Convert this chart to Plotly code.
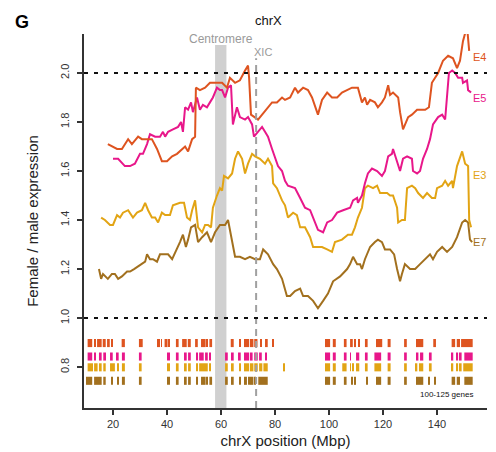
import plotly.graph_objects as go

# ---------------- data ----------------
e4_x = [18.1, 21.5, 23.3, 25.6, 27.0, 29.3, 30.7, 32.6, 34.4, 36.3, 38.1, 40.0, 41.9, 43.7, 45.6, 46.7, 47.8, 49.3, 50.4, 50.7,
        52.2, 54.1, 55.9, 57.8, 58.9, 60.4, 62.2, 63.3, 65.2, 67.0, 68.9, 70.0, 70.4, 71.1, 73.7, 75.2, 77.0, 78.9, 80.7, 82.6,
        83.7, 85.6, 87.4, 88.5, 90.4, 92.2, 93.7, 94.8, 95.9, 97.4, 99.3, 101.1, 103.0, 104.8, 106.7, 108.5, 110.7, 112.2, 113.3,
        114.1, 115.2, 117.0, 118.1, 119.6, 120.7, 121.9, 122.6, 123.7, 125.6, 126.3, 127.4, 129.3, 130.7, 132.6, 135.6, 137.0,
        138.1, 140.4, 142.2, 144.1, 145.9, 147.4, 148.5, 149.6, 151.1, 151.9]
e4_y = [1.71, 1.69, 1.69, 1.73, 1.71, 1.74, 1.73, 1.73, 1.73, 1.69, 1.64, 1.64, 1.66, 1.67, 1.69, 1.70, 1.68, 1.73, 1.74, 1.94,
        1.93, 1.94, 1.96, 1.96, 1.96, 1.96, 1.94, 1.98, 1.96, 1.97, 2.01, 2.03, 1.98, 1.83, 1.81, 1.83, 1.85, 1.88, 1.88, 1.90,
        1.89, 1.90, 1.94, 1.92, 1.94, 1.93, 1.90, 1.86, 1.83, 1.89, 1.92, 1.90, 1.90, 1.92, 1.93, 1.94, 1.94, 1.88, 1.90,
        1.87, 1.89, 1.88, 1.86, 1.88, 1.90, 1.95, 1.91, 1.92, 1.90, 1.84, 1.77, 1.82, 1.83, 1.85, 1.85, 1.86,
        1.96, 2.00, 2.05, 2.07, 2.06, 2.02, 2.05, 2.13, 2.19, 2.09]

e5_x = [20.0, 21.9, 24.4, 26.3, 28.1, 30.0, 31.1, 32.6, 33.7, 35.6, 37.4, 38.5, 39.3, 40.4, 42.2, 44.1, 45.2, 45.9, 46.7, 47.8,
        48.9, 49.6, 51.1, 52.2, 53.3, 54.8, 55.9, 57.0, 58.5, 59.6, 60.4, 61.5, 62.6, 63.7, 64.4, 65.9, 67.0, 68.9, 70.0, 71.5,
        72.2, 73.7, 75.2, 76.3, 77.4, 78.9, 80.0, 81.1, 82.6, 83.7, 84.8, 87.4, 89.3, 91.1, 93.0, 94.1, 95.9, 97.8, 99.3, 101.1,
        103.0, 105.2, 107.8, 108.9, 110.4, 110.7, 112.2, 113.3, 114.4, 115.9, 117.8, 119.6, 120.7, 121.9, 123.3, 123.7, 125.2,
        126.3, 127.4, 128.9, 130.7, 131.1, 132.6, 133.7, 134.8, 136.3, 137.4, 138.5, 140.4, 141.9, 143.0, 143.7, 144.4, 145.6,
        146.7, 147.8, 149.3, 149.6, 151.1, 151.5, 152.6]
e5_y = [1.65, 1.65, 1.62, 1.62, 1.63, 1.67, 1.67, 1.71, 1.75, 1.74, 1.74, 1.76, 1.74, 1.76, 1.77, 1.78, 1.80, 1.76, 1.86, 1.85,
        1.88, 1.84, 1.90, 1.85, 1.87, 1.86, 1.88, 1.90, 1.94, 1.93, 1.93, 1.90, 1.94, 1.95, 1.79, 1.86, 1.82, 1.81, 1.82, 1.79,
        1.74, 1.76, 1.78, 1.76, 1.74, 1.69, 1.65, 1.62, 1.60, 1.56, 1.54, 1.53, 1.49, 1.45, 1.44, 1.41, 1.36, 1.35, 1.39, 1.40,
        1.43, 1.44, 1.45, 1.48, 1.49, 1.47, 1.50, 1.55, 1.59, 1.61, 1.60, 1.58, 1.60, 1.66, 1.67, 1.69, 1.64,
        1.60, 1.65, 1.66, 1.65, 1.60, 1.59, 1.60, 1.65, 1.69, 1.73, 1.79, 1.82, 1.83, 1.81, 1.92, 2.00, 2.01,
        2.00, 1.98, 1.98, 1.96, 1.97, 1.93, 1.92]

e3_x = [15.6, 17.0, 18.9, 20.0, 21.5, 22.6, 23.7, 25.6, 27.4, 28.9, 30.7, 31.9, 33.0, 34.4, 35.6, 36.7, 38.1, 39.3, 41.1, 42.2,
        44.8, 46.3, 47.4, 48.5, 49.3, 50.4, 51.5, 53.0, 54.1, 55.2, 56.3, 57.0, 58.5, 59.6, 60.4, 61.1, 62.6, 64.1, 65.2, 66.3,
        67.8, 68.9, 70.0, 71.5, 72.6, 74.4, 76.3, 77.4, 78.9, 79.3, 80.7, 82.6, 83.7, 84.8, 86.7, 88.1, 89.3, 91.1, 93.0, 94.1,
        95.9, 97.4, 99.3, 101.1, 102.2, 104.8, 107.0, 108.5, 109.6, 110.7, 112.2, 113.3, 114.4, 116.3, 117.8, 118.9, 120.0,
        121.5, 122.6, 123.7, 125.2, 125.6, 127.0, 128.1, 128.9, 130.7, 131.9, 133.0, 134.8, 136.3, 138.1, 139.3, 140.0, 141.9,
        143.0, 144.1, 145.6, 145.9, 147.4, 149.3, 150.4, 151.5, 151.9, 152.6]
e3_y = [1.41, 1.40, 1.38, 1.38, 1.42, 1.41, 1.43, 1.44, 1.41, 1.43, 1.44, 1.47, 1.44, 1.41, 1.41, 1.39, 1.43, 1.42, 1.42, 1.46,
        1.47, 1.47, 1.41, 1.40, 1.44, 1.48, 1.37, 1.35, 1.38, 1.38, 1.37, 1.45, 1.50, 1.53, 1.52, 1.58, 1.57, 1.59, 1.65, 1.68,
        1.65, 1.59, 1.63, 1.67, 1.66, 1.65, 1.63, 1.65, 1.62, 1.55, 1.53, 1.48, 1.46, 1.41, 1.43, 1.42, 1.37, 1.37, 1.33, 1.29,
        1.29, 1.29, 1.28, 1.27, 1.31, 1.32, 1.34, 1.34, 1.37, 1.41, 1.45, 1.53, 1.54, 1.53, 1.54, 1.51, 1.51,
        1.51, 1.50, 1.50, 1.45, 1.39, 1.40, 1.40, 1.53, 1.54, 1.53, 1.51, 1.49, 1.51, 1.49, 1.49, 1.53, 1.54,
        1.56, 1.54, 1.56, 1.53, 1.62, 1.68, 1.63, 1.62, 1.40, 1.37]

e7_x = [14.8, 15.6, 16.3, 17.4, 18.1, 19.6, 20.7, 21.9, 23.3, 25.2, 26.3, 27.8, 29.3, 30.4, 31.9, 32.6, 33.7, 34.8, 36.3, 37.4,
        39.3, 40.4, 41.9, 43.7, 44.8, 45.9, 47.0, 47.8, 48.9, 50.4, 51.5, 53.0, 54.8, 56.3, 57.8, 59.6, 60.4, 61.5, 62.6, 63.3,
        64.4, 65.2, 67.0, 68.9, 70.7, 72.6, 74.4, 75.6, 77.4, 79.3, 80.7, 82.6, 84.4, 85.6, 87.4, 89.3, 90.4, 92.2, 94.1, 95.9,
        97.8, 99.6, 101.5, 104.1, 106.7, 107.8, 108.9, 110.4, 111.5, 112.2, 113.3, 115.2, 117.0, 118.1, 119.6, 120.7, 122.6,
        124.1, 125.2, 126.3, 127.0, 128.1, 130.0, 131.9, 133.7, 135.6, 137.4, 138.5, 140.0, 141.9, 143.7, 145.6, 147.4, 149.3,
        150.4, 151.5, 152.2, 153.0]
e7_y = [1.20, 1.16, 1.18, 1.17, 1.16, 1.18, 1.18, 1.16, 1.17, 1.19, 1.19, 1.20, 1.21, 1.22, 1.23, 1.26, 1.24, 1.24, 1.23, 1.26,
        1.26, 1.26, 1.24, 1.28, 1.31, 1.34, 1.29, 1.32, 1.37, 1.38, 1.31, 1.33, 1.35, 1.31, 1.35, 1.38, 1.38, 1.38, 1.40, 1.36,
        1.29, 1.25, 1.25, 1.24, 1.25, 1.24, 1.24, 1.28, 1.26, 1.22, 1.20, 1.16, 1.09, 1.09, 1.11, 1.12, 1.09, 1.09, 1.07, 1.04,
        1.07, 1.10, 1.15, 1.17, 1.20, 1.22, 1.25, 1.22, 1.22, 1.20, 1.24, 1.29, 1.31, 1.32, 1.31, 1.28, 1.28,
        1.26, 1.20, 1.15, 1.18, 1.22, 1.20, 1.20, 1.22, 1.24, 1.26, 1.24, 1.27, 1.29, 1.27, 1.29, 1.33, 1.39,
        1.40, 1.39, 1.32, 1.31]

# gene positions (start, end in Mbp) per stage track
e4_genes = [(10.6, 12.3), (13.0, 13.6), (14.1, 15.8), (16.2, 17.3), (17.8, 18.8), (19.3, 19.8), (23.2, 24.4), (29.6, 31.0),
            (36.3, 37.4), (37.8, 38.1), (39.1, 40.2), (40.7, 41.0), (43.3, 44.3), (45.6, 47.3), (47.7, 48.8), (50.4, 51.4),
            (52.6, 54.3), (54.7, 55.1), (55.7, 56.7), (63.6, 64.7), (67.0, 67.3), (68.5, 70.4), (70.7, 72.0), (72.3, 73.5),
            (74.6, 75.1), (76.3, 77.3), (79.1, 79.5), (98.5, 100.4), (101.4, 102.5), (105.5, 106.5), (107.8, 108.8),
            (109.6, 110.0), (110.9, 111.2), (113.3, 114.3), (117.4, 119.7), (121.7, 122.8), (127.8, 128.8), (132.2, 134.9),
            (138.6, 139.6), (145.4, 146.7), (147.3, 148.5), (148.9, 153.2)]
e5_genes = [(10.6, 12.3), (13.0, 13.6), (14.8, 15.8), (16.4, 17.4), (18.9, 19.9), (21.1, 22.1), (23.3, 24.4), (29.6, 30.6),
            (40.0, 40.2), (40.7, 41.1), (43.3, 44.3), (46.3, 47.3), (47.8, 48.8), (51.0, 51.4), (51.9, 53.6), (54.1, 55.1),
            (55.7, 56.1), (61.5, 62.5), (63.7, 64.7), (66.3, 67.3), (68.5, 70.4), (70.7, 71.7), (72.3, 73.6), (74.1, 75.1),
            (76.3, 76.7), (98.5, 100.4), (101.4, 102.5), (105.5, 106.5), (107.8, 108.1), (110.0, 111.2), (113.3, 114.3),
            (116.8, 119.3), (121.7, 122.8), (127.8, 128.8), (132.2, 133.1), (133.7, 134.9), (137.0, 138.0), (145.4, 146.0),
            (147.3, 147.7), (148.1, 149.1), (150.1, 153.2)]
e3_genes = [(10.6, 12.6), (13.0, 14.3), (14.8, 15.8), (16.4, 17.3), (18.9, 20.7), (21.7, 22.1), (23.3, 24.4), (29.6, 30.6),
            (40.0, 40.2), (40.7, 41.1), (43.3, 44.3), (46.3, 47.3), (47.8, 48.8), (51.0, 51.4), (51.9, 55.1), (55.7, 56.1),
            (61.5, 62.5), (63.7, 64.7), (67.0, 67.3), (68.5, 70.4), (70.7, 72.0), (72.3, 73.6), (74.1, 75.3), (75.7, 77.3),
            (83.3, 83.7), (98.5, 100.4), (101.4, 102.5), (104.9, 106.5), (107.8, 108.1), (108.6, 109.0), (110.0, 111.2),
            (113.3, 114.3), (116.8, 119.3), (121.7, 122.8), (127.8, 128.8), (132.2, 132.7), (133.3, 134.9), (137.0, 138.0),
            (145.4, 146.0), (147.3, 147.7), (148.1, 149.1), (149.7, 153.2)]
e7_genes = [(10.0, 12.3), (13.0, 15.8), (16.4, 17.3), (19.3, 19.8), (21.7, 22.1), (23.3, 24.4), (29.6, 30.6), (40.0, 40.2),
            (40.7, 41.1), (43.3, 44.3), (46.3, 47.3), (47.8, 48.8), (51.0, 51.4), (52.6, 54.3), (54.7, 55.1), (55.7, 56.7),
            (61.5, 62.5), (63.7, 64.7), (67.0, 67.3), (68.5, 69.6), (70.1, 70.4), (70.7, 72.0), (72.3, 72.7), (73.8, 77.3),
            (98.5, 100.4), (101.4, 102.5), (105.5, 106.5), (108.3, 108.8), (109.6, 110.0), (113.9, 114.2), (117.4, 119.3),
            (121.7, 122.8), (127.8, 128.8), (132.2, 134.9), (137.0, 137.4), (139.2, 139.6), (145.4, 146.7), (147.3, 148.5),
            (150.1, 153.2)]

stages = ["E4", "E5", "E3", "E7"]
gene_track_y = [0.898, 0.843, 0.799, 0.744]
centromere = (57.8, 62.0)
xic_pos = 73.0
x_ticks = [20, 40, 60, 80, 100, 120, 140]
y_ticks = [0.8, 1.0, 1.2, 1.4, 1.6, 1.8, 2.0]
ref_levels = [1.0, 2.0]

colors = {"E4": "#DE5420", "E5": "#E8178A", "E3": "#E2A414", "E7": "#A2701E"}
series = {"E4": (e4_x, e4_y), "E5": (e5_x, e5_y), "E3": (e3_x, e3_y), "E7": (e7_x, e7_y)}
genes = {"E4": e4_genes, "E5": e5_genes, "E3": e3_genes, "E7": e7_genes}
label_y = {"E4": 2.065, "E5": 1.898, "E3": 1.584, "E7": 1.31}

FONT = "Liberation Sans, Arial, sans-serif"
X_RANGE = [9.26, 158.5]
Y_RANGE = [0.633, 2.159]

fig = go.Figure()

# gene tracks
for st, ty in zip(stages, gene_track_y):
    starts = [g[0] for g in genes[st]]
    widths = [g[1] - g[0] for g in genes[st]]
    fig.add_trace(go.Bar(orientation="h", y=[ty] * len(starts), x=widths, base=starts,
                         width=0.033, marker=dict(color=colors[st], line=dict(width=0)),
                         showlegend=False, hoverinfo="skip"))

# ratio lines (draw E7, E3, E5, E4 so E4 on top)
for st in ["E7", "E3", "E5", "E4"]:
    xs, ys = series[st]
    fig.add_trace(go.Scatter(x=xs, y=ys, mode="lines", line=dict(color=colors[st], width=2),
                             showlegend=False, hoverinfo="skip", cliponaxis=False))

shapes = []
# centromere band
shapes.append(dict(type="rect", xref="x", yref="y", x0=centromere[0], x1=centromere[1],
                   y0=Y_RANGE[0], y1=2.114, fillcolor="#D0D0D0", line=dict(width=0), layer="below"))
# XIC line
shapes.append(dict(type="line", xref="x", yref="y", x0=xic_pos, x1=xic_pos, y0=Y_RANGE[0], y1=2.06,
                   line=dict(color="#A0A0A0", width=2, dash="7px,5px"), layer="above"))
for lv in ref_levels:
    shapes.append(dict(type="line", xref="paper", yref="y", x0=0, x1=1, y0=lv, y1=lv,
                       line=dict(color="#111111", width=2, dash="4px,6px"), layer="above"))

annotations = [
    dict(text="<b>G</b>", xref="paper", yref="paper", x=-0.154, y=1.032, xanchor="center", yanchor="middle",
         showarrow=False, font=dict(size=18, color="#000", family=FONT)),
    dict(text="chrX", xref="paper", yref="paper", x=0.457, y=1.037, xanchor="center", yanchor="middle",
         showarrow=False, font=dict(size=13, color="#111", family=FONT)),
    dict(text="Centromere", x=60.0, y=2.138, xref="x", yref="y", showarrow=False,
         font=dict(size=12, color="#9A9A9A", family=FONT)),
    dict(text="XIC", x=75.6, y=2.086, xref="x", yref="y", showarrow=False,
         font=dict(size=11, color="#9A9A9A", family=FONT)),
    dict(text="100-125 genes", x=154.2, y=0.69, xref="x", yref="y", xanchor="right", showarrow=False,
         font=dict(size=8, color="#111", family=FONT)),
]
for st in stages:
    annotations.append(dict(text=st, xref="paper", x=1.0, y=label_y[st], yref="y", xanchor="right",
                            showarrow=False, borderpad=0, font=dict(size=11, color=colors[st], family=FONT)))

# the page body adds an 8px offset; size the figure so the plot lands where the reference has it
fig.update_layout(
    width=488, height=444,
    margin=dict(l=76, r=9, t=26, b=44, autoexpand=False),
    paper_bgcolor="white", plot_bgcolor="white",
    barmode="overlay",
    shapes=shapes, annotations=annotations,
    font=dict(family=FONT, color="#222"),
    xaxis=dict(range=X_RANGE, tickvals=x_ticks, ticks="outside", ticklen=5, tickwidth=1.5,
               tickcolor="#333", showline=True, linecolor="#333", linewidth=2, showgrid=False,
               zeroline=False, tickfont=dict(size=11, color="#333"), automargin=False,
               title=dict(text="chrX position (Mbp)", font=dict(size=15, color="#222"), standoff=6)),
    yaxis=dict(range=Y_RANGE, tickvals=y_ticks, ticktext=[f"{v:.1f}" for v in y_ticks],
               ticks="outside", ticklen=5, tickwidth=1.5, tickangle=-90, ticklabelstandoff=4,
               tickcolor="#333", showline=True, linecolor="#333", linewidth=2, showgrid=False,
               zeroline=False, tickfont=dict(size=11, color="#333"), automargin=False,
               title=dict(text="Female / male expression", font=dict(size=15, color="#222"), standoff=16)),
)

fig.write_html("out.html")
